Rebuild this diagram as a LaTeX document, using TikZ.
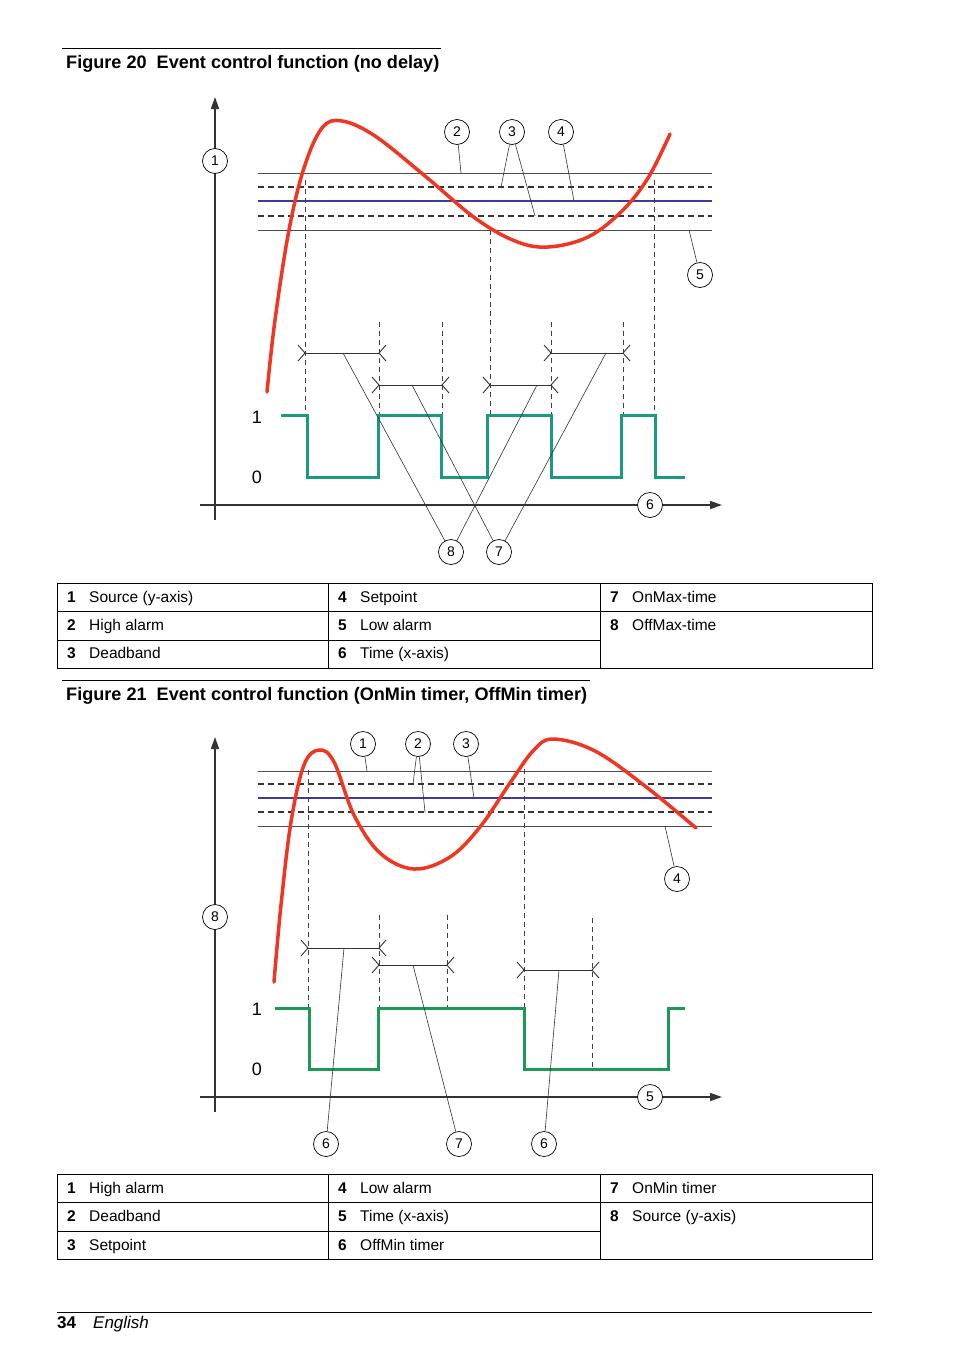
\documentclass[tikz,border=0pt]{standalone}
\usepackage{fontspec}
\setmainfont{Liberation Sans}
\usetikzlibrary{arrows.meta}
\definecolor{redc}{HTML}{F03522}
\definecolor{tealc}{HTML}{1A9A80}
\definecolor{greenc}{HTML}{1A9A55}
\definecolor{bluec}{HTML}{3A3AA0}
\tikzset{
 callout/.style={circle,draw,fill=white,inner sep=0pt,minimum size=25pt,font=\fontsize{14}{14}\selectfont,line width=0.7pt},
 leader/.style={line width=0.6pt,black!80},
 thinln/.style={line width=0.8pt,black!70},
 dashln/.style={line width=1.6pt,black!80,dash pattern=on 6pt off 4pt},
 blueln/.style={line width=1.6pt,bluec},
 vdash/.style={line width=0.7pt,black!75,dash pattern=on 5pt off 4pt},
 axis/.style={line width=1.6pt,black!80,-{Triangle[length=12pt,width=8pt]}},
 redcurve/.style={line width=3.5pt,redc,line cap=round},
 brk/.style={line width=0.9pt,black!80},
 tt/.style={anchor=base west,font=\fontsize{15.5}{15.5}\selectfont,inner sep=0pt},
 tn/.style={anchor=base west,font=\bfseries\fontsize{15.5}{15.5}\selectfont,inner sep=0pt},
 ttl/.style={anchor=base west,font=\bfseries\fontsize{18.1}{18.1}\selectfont,inner sep=0pt},
 lvl/.style={font=\fontsize{18}{18}\selectfont,inner sep=0pt}
}
\newcommand{\brkt}[3]{%
 \draw[brk] (#1,#3) -- (#2,#3);
 \draw[brk] (#1-7,#3-8) -- (#1,#3) -- (#1-7,#3+8);
 \draw[brk] (#2+7,#3-8) -- (#2,#3) -- (#2+7,#3+8);}
\begin{document}
\begin{tikzpicture}[x=1pt,y=-1pt]
\useasboundingbox[fill=white] (0,0) rectangle (954,1354);
% ===== Figure 20 =====
\draw[line width=0.8pt] (62,48) -- (441,48);
\node[ttl] (t20) at (66,68) {Figure 20\ \ Event control function (no delay)};
\draw[axis] (215,520) -- (215,97);
\draw[axis] (200,505) -- (722,505);
\draw[thinln] (258,173) -- (712,173);
\draw[dashln] (258,187) -- (712,187);
\draw[blueln] (258,201) -- (712,201);
\draw[dashln] (258,216) -- (712,216);
\draw[thinln] (258,230) -- (712,230);
\foreach \x/\a in {305/180,379/322,442/322,490/230,551/322,623/322,654/180}
  \draw[vdash] (\x,\a) -- (\x,415);
\draw[line width=3pt,tealc] (281,415) -| (307,477) -| (378,415) -| (441,477) -| (487,415) -| (551,477) -| (621,415) -| (655,477) -- (685,477);
\draw[redcurve] plot[smooth,tension=0.6] coordinates {(267,392) (275,320) (289,230) (304,168) (322,128) (342,121) (375,136) (425,176) (475,218) (515,241) (548,247) (588,237) (622,211) (648,178) (670,134)};
\brkt{305}{379}{353}
\brkt{551}{623}{353}
\brkt{379}{442}{385}
\brkt{490}{551}{385}
\node[lvl] (a1) at (257,417) {1};
\node[lvl] (a0) at (257,477) {0};
\node[callout] (c1) at (215,161) {1};
\node[callout] (c2) at (457,132) {2};
\node[callout] (c3) at (512,132) {3};
\node[callout] (c4) at (561,132) {4};
\node[callout] (c5) at (700,275) {5};
\node[callout] (c6) at (650,505) {6};
\node[callout] (c8) at (451,552) {8};
\node[callout] (c7) at (499,552) {7};
\draw[leader] (c2) -- (461,173);
\draw[leader] (c3) -- (501,187);
\draw[leader] (c3) -- (535,216);
\draw[leader] (c4) -- (574,201);
\draw[leader] (c5) -- (689,230);
\draw[leader] (c8) -- (343,353);
\draw[leader] (c8) -- (537,385);
\draw[leader] (c7) -- (412,385);
\draw[leader] (c7) -- (606,353);
% table 1
\draw[line width=0.8pt] (57,583) rectangle (872,668);
\draw[line width=0.8pt] (328,583) -- (328,668) (600,583) -- (600,668);
\draw[line width=0.8pt] (57,611) -- (872,611) (57,640) -- (600,640);
\foreach \n/\t/\x/\y in {1/Source (y-axis)/67/602,2/High alarm/67/630,3/Deadband/67/658,4/Setpoint/338/602,5/Low alarm/338/630,6/Time (x-axis)/338/658,7/OnMax-time/610/602,8/OffMax-time/610/630}{
  \node[tn] at (\x,\y) {\n};
  \node[tt] at (\x+22,\y) {\t};}
% ===== Figure 21 =====
\draw[line width=0.8pt] (62,680) -- (590,680);
\node[ttl] (t21) at (66,700) {Figure 21\ \ Event control function (OnMin timer, OffMin timer)};
\draw[axis] (215,1112) -- (215,737);
\draw[axis] (200,1097) -- (722,1097);
\draw[thinln] (258,771) -- (712,771);
\draw[dashln] (258,784) -- (712,784);
\draw[blueln] (258,798) -- (712,798);
\draw[dashln] (258,812) -- (712,812);
\draw[thinln] (258,826) -- (712,826);
\foreach \x/\a/\b in {308/770/1008,379/915/1008,447/915/1008,524/760/1008,592/918/1068}
  \draw[vdash] (\x,\a) -- (\x,\b);
\draw[line width=3pt,greenc] (275,1008) -| (309,1069) -| (378,1008) -| (524,1069) -| (668,1008) -- (685,1008);
\draw[redcurve] plot[smooth,tension=0.6] coordinates {(274,982) (281,905) (291,822) (304,765) (319,750) (334,762) (354,815) (380,853) (414,869) (450,857) (480,827) (510,783) (533,751) (553,739) (595,751) (645,786) (696,828)};
\brkt{308}{379}{948}
\brkt{379}{447}{965}
\brkt{524}{592}{970}
\node[lvl] (b1) at (257,1009) {1};
\node[lvl] (b0) at (257,1069) {0};
\node[callout] (d1) at (363,744) {1};
\node[callout] (d2) at (418,744) {2};
\node[callout] (d3) at (466,744) {3};
\node[callout] (d4) at (677,879) {4};
\node[callout] (d8) at (215,917) {8};
\node[callout] (d5) at (650,1097) {5};
\node[callout] (d6) at (326,1144) {6};
\node[callout] (d7) at (459,1144) {7};
\node[callout] (d6b) at (544,1144) {6};
\draw[leader] (d1) -- (367,771);
\draw[leader] (d2) -- (413,784);
\draw[leader] (d2) -- (425,812);
\draw[leader] (d3) -- (474,798);
\draw[leader] (d4) -- (665,826);
\draw[leader] (d6) -- (344,948);
\draw[leader] (d7) -- (413,965);
\draw[leader] (d6b) -- (559,970);
% table 2
\draw[line width=0.8pt] (57,1174) rectangle (872,1259);
\draw[line width=0.8pt] (328,1174) -- (328,1259) (600,1174) -- (600,1259);
\draw[line width=0.8pt] (57,1202) -- (872,1202) (57,1231) -- (600,1231);
\foreach \n/\t/\x/\y in {1/High alarm/67/1193,2/Deadband/67/1221,3/Setpoint/67/1250,4/Low alarm/338/1193,5/Time (x-axis)/338/1221,6/OffMin timer/338/1250,7/OnMin timer/610/1193,8/Source (y-axis)/610/1221}{
  \node[tn] at (\x,\y) {\n};
  \node[tt] at (\x+22,\y) {\t};}
% footer
\draw[line width=0.6pt] (57,1312) -- (872,1312);
\node[tn,font=\bfseries\fontsize{17}{17}\selectfont] (pg) at (57,1328) {34};
\node[tt,font=\itshape\fontsize{17}{17}\selectfont] (lang) at (93,1328) {English};
\end{tikzpicture}
\end{document}
